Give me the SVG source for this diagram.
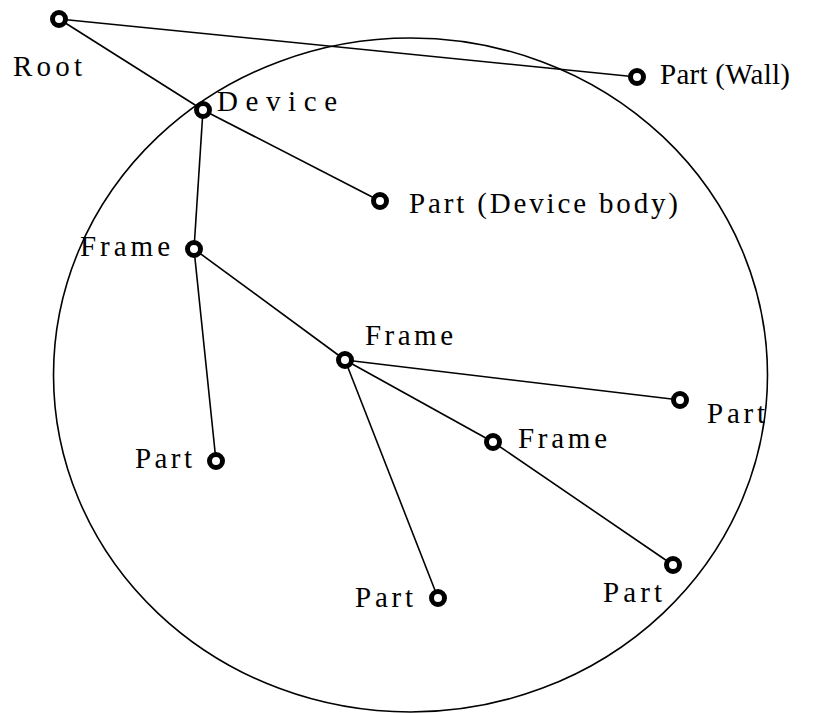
<svg xmlns="http://www.w3.org/2000/svg" width="818" height="713" viewBox="0 0 818 713">
<style>
.edge{stroke:#000;stroke-width:1.6;fill:none}
.node{fill:#fff;stroke:#000;stroke-width:5}
.lbl{font-family:"Liberation Serif","Times New Roman",serif;font-size:29px;fill:#000}
</style>
<rect width="818" height="713" fill="#fff"/>
<ellipse cx="410.5" cy="375" rx="357" ry="337" class="edge"/>
<g id="connectors">
<line class="edge" x1="59" y1="19" x2="203" y2="110"/>
<line class="edge" x1="59" y1="19" x2="637" y2="77"/>
<line class="edge" x1="203" y1="110" x2="380" y2="201"/>
<line class="edge" x1="203" y1="110" x2="194" y2="249"/>
<line class="edge" x1="194" y1="249" x2="216" y2="461"/>
<line class="edge" x1="194" y1="249" x2="345" y2="360"/>
<line class="edge" x1="345" y1="360" x2="680" y2="400"/>
<line class="edge" x1="345" y1="360" x2="493" y2="442"/>
<line class="edge" x1="345" y1="360" x2="438" y2="598"/>
<line class="edge" x1="493" y1="442" x2="673" y2="565"/>
</g>
<g id="root"><circle class="node" cx="59" cy="19" r="6.5"/><text class="lbl" x="13" y="76" textLength="69" lengthAdjust="spacing">Root</text></g>
<g id="device"><circle class="node" cx="203" cy="110" r="6.5"/><text class="lbl" x="217" y="111" textLength="120" lengthAdjust="spacing">Device</text></g>
<g id="part-wall"><circle class="node" cx="637" cy="77" r="6.5"/><text class="lbl" x="660" y="84" textLength="130" lengthAdjust="spacing">Part (Wall)</text></g>
<g id="part-body"><circle class="node" cx="380" cy="201" r="6.5"/><text class="lbl" x="409" y="213" textLength="269" lengthAdjust="spacing">Part (Device body)</text></g>
<g id="frame1"><circle class="node" cx="194" cy="249" r="6.5"/><text class="lbl" x="80" y="256" textLength="90" lengthAdjust="spacing">Frame</text></g>
<g id="frame2"><circle class="node" cx="345" cy="360" r="6.5"/><text class="lbl" x="365" y="345" textLength="88" lengthAdjust="spacing">Frame</text></g>
<g id="part-right"><circle class="node" cx="680" cy="400" r="6.5"/><text class="lbl" x="707" y="423" textLength="58" lengthAdjust="spacing">Part</text></g>
<g id="frame3"><circle class="node" cx="493" cy="442" r="6.5"/><text class="lbl" x="518" y="448" textLength="89" lengthAdjust="spacing">Frame</text></g>
<g id="part-left"><circle class="node" cx="216" cy="461" r="6.5"/><text class="lbl" x="135" y="468" textLength="57" lengthAdjust="spacing">Part</text></g>
<g id="part-bottom"><circle class="node" cx="438" cy="598" r="6.5"/><text class="lbl" x="355" y="607" textLength="58" lengthAdjust="spacing">Part</text></g>
<g id="part-br"><circle class="node" cx="673" cy="565" r="6.5"/><text class="lbl" x="603" y="602" textLength="59" lengthAdjust="spacing">Part</text></g>
</svg>
